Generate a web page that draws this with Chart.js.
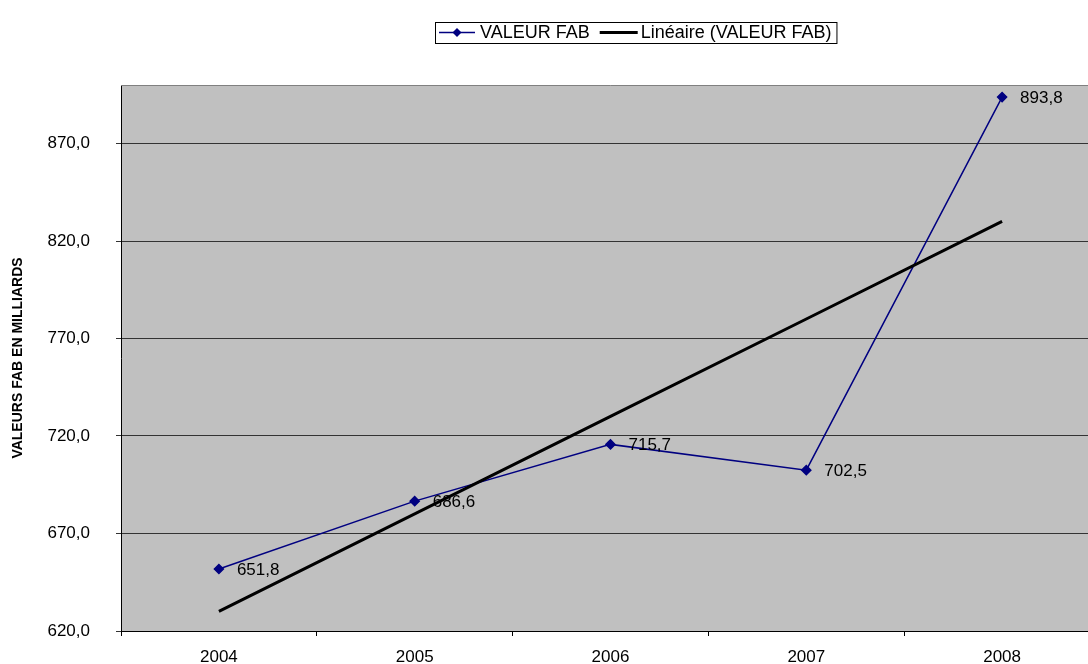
<!DOCTYPE html>
<html>
<head>
<meta charset="utf-8">
<script src="https://cdn.jsdelivr.net/npm/chart.js@4.4.1/dist/chart.umd.min.js"></script>
<style>
    html, body { margin: 0; padding: 0; background: #fff; overflow: hidden; }
    #wrap { width: 1108px; height: 664px; }
</style>
</head>
<body>
<div id="wrap"><canvas id="chart" width="1108" height="664"></canvas></div>
<script>
// 데이터
const years = ['2004', '2005', '2006', '2007', '2008'];
const valeurFab = [651.8, 686.6, 715.7, 702.5, 893.8];
const trendValues = [630.1, 680.1, 730.1, 780.0, 830.1];
const yTicks = [620, 670, 720, 770, 820, 870];

const FONT = '"Liberation Sans", Arial, sans-serif';
const NAVY = '#000080';

function fmt(v) {
    return v.toFixed(1).replace('.', ',');
}

// 플롯 배경 + 위/오른쪽 테두리
const plotBackground = {
    id: 'plotBackground',
    beforeDraw(chart) {
        const a = chart.chartArea;
        const ctx = chart.ctx;
        ctx.save();
        ctx.fillStyle = '#C0C0C0';
        ctx.fillRect(a.left, a.top, a.right - a.left, a.bottom - a.top);
        ctx.restore();
    },
    afterDraw(chart) {
        const a = chart.chartArea;
        const ctx = chart.ctx;
        ctx.save();
        ctx.strokeStyle = '#808080';
        ctx.lineWidth = 1;
        ctx.beginPath();
        ctx.moveTo(a.left, a.top + 0.5);
        ctx.lineTo(a.right, a.top + 0.5);
        ctx.lineTo(a.right - 0.5, a.bottom);
        ctx.stroke();
        ctx.restore();
    }
};

// 값 라벨
const valueLabels = {
    id: 'valueLabels',
    afterDatasetsDraw(chart) {
        const ctx = chart.ctx;
        const meta = chart.getDatasetMeta(0);
        ctx.save();
        ctx.font = '17px ' + FONT;
        ctx.fillStyle = '#000';
        ctx.textAlign = 'left';
        ctx.textBaseline = 'middle';
        meta.data.forEach((pt, i) => {
            ctx.fillText(fmt(valeurFab[i]), pt.x + 18, pt.y + 1);
        });
        ctx.restore();
    }
};

// 범례 (박스 안에 선+마름모)
const boxLegend = {
    id: 'boxLegend',
    afterDraw(chart) {
        const ctx = chart.ctx;
        const label1 = 'VALEUR FAB';
        const label2 = 'Linéaire (VALEUR FAB)';
        ctx.save();
        ctx.font = '18px ' + FONT;
        const w1 = ctx.measureText(label1).width;
        const w2 = ctx.measureText(label2).width;
        const total = 4 + 36 + 5 + w1 + 10 + 38 + 3 + w2 + 5;
        const left = Math.round(635.5 - total / 2);
        const top = 22, h = 21, cy = top + h / 2;

        ctx.strokeStyle = '#000';
        ctx.lineWidth = 1;
        ctx.strokeRect(left + 0.5, top + 0.5, total, h);

        let x = left + 4;
        ctx.strokeStyle = NAVY;
        ctx.lineWidth = 1.5;
        ctx.beginPath();
        ctx.moveTo(x, cy);
        ctx.lineTo(x + 36, cy);
        ctx.stroke();
        ctx.fillStyle = NAVY;
        ctx.beginPath();
        ctx.moveTo(x + 18, cy - 4.5);
        ctx.lineTo(x + 22.5, cy);
        ctx.lineTo(x + 18, cy + 4.5);
        ctx.lineTo(x + 13.5, cy);
        ctx.closePath();
        ctx.fill();
        x += 36 + 5;

        ctx.fillStyle = '#000';
        ctx.textAlign = 'left';
        ctx.textBaseline = 'middle';
        ctx.fillText(label1, x, cy + 1);
        x += w1 + 10;

        ctx.strokeStyle = '#000';
        ctx.lineWidth = 3;
        ctx.beginPath();
        ctx.moveTo(x, cy);
        ctx.lineTo(x + 38, cy);
        ctx.stroke();
        x += 38 + 3;
        ctx.fillText(label2, x, cy + 1);
        ctx.restore();
    }
};

const ctx = document.getElementById('chart').getContext('2d');
const chart = new Chart(ctx, {
    type: 'line',
    data: {
        labels: years,
        datasets: [
            {
                label: 'VALEUR FAB',
                data: valeurFab,
                borderColor: NAVY,
                backgroundColor: NAVY,
                borderWidth: 1.5,
                pointStyle: 'rectRot',
                pointRadius: 4.5,
                pointBackgroundColor: NAVY,
                pointBorderColor: NAVY,
                tension: 0,
                order: 1
            },
            {
                label: 'Linéaire (VALEUR FAB)',
                data: trendValues,
                borderColor: '#000',
                borderWidth: 3,
                pointRadius: 0,
                tension: 0,
                order: 0
            }
        ]
    },
    options: {
        responsive: false,
        animation: false,
        layout: { padding: { top: 85, right: 8, left: 0, bottom: 0 } },
        plugins: {
            legend: { display: false },
            tooltip: { enabled: false }
        },
        scales: {
            x: {
                offset: true,
                afterFit: s => {
                    s.height = 33;
                    s.paddingLeft = 0;
                    s.paddingRight = 0;
                },
                grid: {
                    offset: true,
                    drawOnChartArea: false,
                    drawTicks: true,
                    tickLength: 5,
                    color: '#000'
                },
                border: { color: '#000', width: 1 },
                ticks: {
                    color: '#000',
                    padding: 11,
                    font: { family: FONT, size: 17 }
                }
            },
            y: {
                min: 620,
                max: 900,
                afterFit: s => {
                    s.width = 121;
                    s.paddingTop = 0;
                    s.paddingBottom = 0;
                },
                afterBuildTicks: s => { s.ticks = yTicks.map(v => ({ value: v })); },
                grid: {
                    color: '#333',
                    lineWidth: 1,
                    drawTicks: true,
                    tickLength: 5
                },
                border: { color: '#000', width: 1 },
                ticks: {
                    color: '#000',
                    padding: 26,
                    font: { family: FONT, size: 17 },
                    callback: v => fmt(v)
                },
                title: {
                    display: true,
                    text: 'VALEURS FAB EN MILLIARDS',
                    color: '#000',
                    padding: { top: 10, bottom: 0 },
                    font: { family: FONT, size: 14, weight: 'bold' }
                }
            }
        }
    },
    plugins: [plotBackground, valueLabels, boxLegend]
});
</script>
</body>
</html>
